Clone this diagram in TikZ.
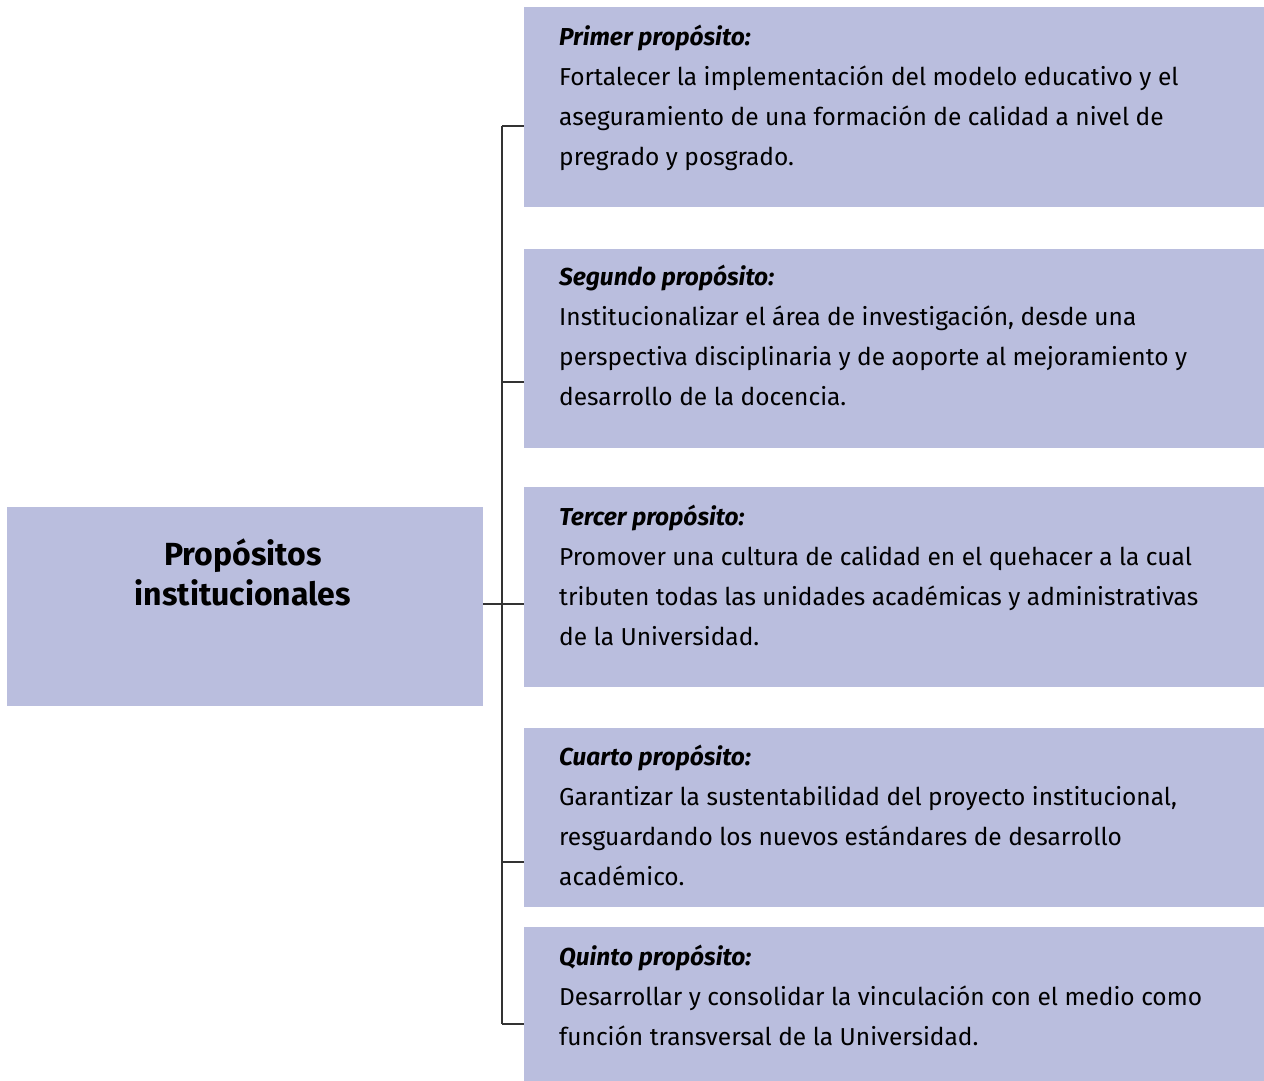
\documentclass[tikz,border=0pt]{standalone}
\usepackage{fontspec}
\setmainfont{Fira Sans}
\begin{document}
\begin{tikzpicture}[x=1pt,y=-1pt,
  boxfill/.style={fill=lav, draw=none, inner sep=0pt, anchor=north west},
  body/.style={anchor=base west, inner sep=0pt, align=left, font=\fontsize{24.5}{40}\selectfont},
  conn/.style={draw=linegray, line width=1.2pt}]
\definecolor{lav}{RGB}{186,190,222}
\definecolor{linegray}{RGB}{51,51,51}
\useasboundingbox (0,0) rectangle (1264,1081);
% boxes
\node[boxfill, minimum width=476, minimum height=199] (L) at (7,507) {};
\node[boxfill, minimum width=740, minimum height=200] (b1) at (524,7) {};
\node[boxfill, minimum width=740, minimum height=199] (b2) at (524,249) {};
\node[boxfill, minimum width=740, minimum height=200] (b3) at (524,487) {};
\node[boxfill, minimum width=740, minimum height=179] (b4) at (524,728) {};
\node[boxfill, minimum width=740, minimum height=154] (b5) at (524,927) {};
% texts (anchor base = baseline of last line)
\node[anchor=base, inner sep=0pt, align=center, font=\fontsize{32}{40}\selectfont\bfseries] (Lt) at (243,605) {Propósitos\\institucionales};
\node[body] (t1) at (559,165) {\textbf{\textit{Primer propósito:}}\\Fortalecer la implementación del modelo educativo y el\\aseguramiento de una formación de calidad a nivel de\\pregrado y posgrado.};
\node[body] (t2) at (559,405) {\textbf{\textit{Segundo propósito:}}\\Institucionalizar el área de investigación, desde una\\perspectiva disciplinaria y de aoporte al mejoramiento y\\desarrollo de la docencia.};
\node[body] (t3) at (559,645) {\textbf{\textit{Tercer propósito:}}\\Promover una cultura de calidad en el quehacer a la cual\\tributen todas las unidades académicas y administrativas\\de la Universidad.};
\node[body] (t4) at (559,885) {\textbf{\textit{Cuarto propósito:}}\\Garantizar la sustentabilidad del proyecto institucional,\\resguardando los nuevos estándares de desarrollo\\académico.};
\node[body] (t5) at (559,1045) {\textbf{\textit{Quinto propósito:}}\\Desarrollar y consolidar la vinculación con el medio como\\función transversal de la Universidad.};
% connectors
\coordinate (j1) at (502,126);
\coordinate (j2) at (502,382);
\coordinate (j3) at (502,604);
\coordinate (j4) at (502,862);
\coordinate (j5) at (502,1024);
\draw[conn] (j1) -- (j5);
\draw[conn] (j1) -- (j1 -| b1.west);
\draw[conn] (j2) -- (j2 -| b2.west);
\draw[conn] (L.east |- j3) -- (j3 -| b3.west);
\draw[conn] (j4) -- (j4 -| b4.west);
\draw[conn] (j5) -- (j5 -| b5.west);
\end{tikzpicture}
\end{document}
